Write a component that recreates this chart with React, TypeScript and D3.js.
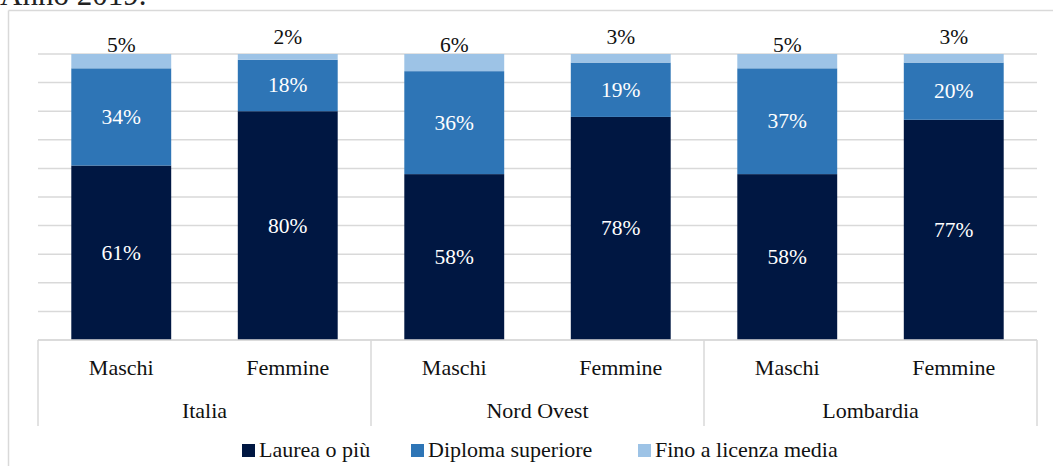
import React from "react";
import * as d3 from "d3";

const groups = ["Italia", "Nord Ovest", "Lombardia"];
const genders = ["Maschi", "Femmine"];
const seriesNames = ["Laurea o più", "Diploma superiore", "Fino a licenza media"];
const laurea = [61, 80, 58, 78, 58, 77];
const diploma = [34, 18, 36, 19, 37, 20];
const fino = [5, 2, 6, 3, 5, 3];
const gridTicks = [0, 10, 20, 30, 40, 50, 60, 70, 80, 90, 100];

const colors = ["#001742", "#2E75B6", "#9DC3E6"];
const FONT = "Liberation Serif, serif";
const ts = { fontFamily: FONT };

export default function App() {
  const W = 1053, H = 466;
  const left = 38, right = 1037, top = 54, bottom = 340;
  const bars = groups.flatMap((g, gi) => genders.map((s, si) => ({
    key: `${gi}-${si}`, group: g, gender: s, idx: gi * 2 + si,
    laurea: laurea[gi * 2 + si], diploma: diploma[gi * 2 + si], fino: fino[gi * 2 + si],
  })));
  const x = d3.scaleBand<string>().domain(bars.map(b => b.key)).range([left, right]).paddingInner(0.4).paddingOuter(0.2);
  const y = d3.scaleLinear().domain([0, 100]).range([bottom, top]);
  const stack = d3.stack<any>().keys(["laurea", "diploma", "fino"]);
  const stacked = stack(bars);
  const groupScale = d3.scaleBand<string>().domain(groups).range([left, right]);
  const gridColor = "#D9D9D9";

  return (
    <svg width={W} height={H} style={{ position: "absolute", left: 0, top: 0, background: "#fff", fontFamily: FONT }}>
      <text x={0} y={5} fontSize={31} fill="#222" style={ts}>Anno 2019.</text>
      <line x1={8.5} y1={10.5} x2={W} y2={10.5} stroke={gridColor} strokeWidth={1.5} />
      <line x1={8.5} y1={10.5} x2={8.5} y2={H} stroke={gridColor} strokeWidth={1.5} />
      {gridTicks.map(t => (
        <line key={t} x1={left} x2={right} y1={y(t)} y2={y(t)} stroke={gridColor} strokeWidth={1.5} />
      ))}
      {stacked.map((layer, li) => layer.map((d, i) => (
        <rect key={`${li}-${i}`} x={x(bars[i].key)} width={x.bandwidth()} y={y(d[1])} height={y(d[0]) - y(d[1])} fill={colors[li]} />
      )))}
      {stacked.slice(0, 2).map((layer, li) => layer.map((d, i) => (
        <text key={`l${li}-${i}`} x={(x(bars[i].key) as number) + x.bandwidth() / 2} y={(y(d[0]) + y(d[1])) / 2 + 7}
          textAnchor="middle" fontSize={21.5} fill="#fff" style={ts}>{`${d[1] - d[0]}%`}</text>
      )))}
      {bars.map((b, i) => (
        <text key={`t${i}`} x={(x(b.key) as number) + x.bandwidth() / 2} y={y(100) - (b.idx % 2 === 0 ? 2 : 10)}
          textAnchor="middle" fontSize={21.5} fill="#111" style={ts}>{`${b.fino}%`}</text>
      ))}
      <line x1={left} x2={right} y1={bottom} y2={bottom} stroke={gridColor} strokeWidth={1.5} />
      {[...groups.map(g => groupScale(g) as number), right].map((sx, i) => (
        <line key={`s${i}`} x1={sx} x2={sx} y1={bottom} y2={426} stroke={gridColor} strokeWidth={1.5} />
      ))}
      {bars.map(b => (
        <text key={`c${b.key}`} x={(x(b.key) as number) + x.bandwidth() / 2} y={375} textAnchor="middle" fontSize={22} fill="#111" style={ts}>{b.gender}</text>
      ))}
      {groups.map(g => (
        <text key={`g${g}`} x={(groupScale(g) as number) + groupScale.bandwidth() / 2} y={418} textAnchor="middle" fontSize={22} fill="#111" style={ts}>{g}</text>
      ))}
      {seriesNames.map((n, i) => {
        const lx = [242, 411, 638][i];
        return (
          <g key={n}>
            <rect x={lx} y={444} width={13} height={13} fill={colors[i]} />
            <text x={lx + 17} y={457} fontSize={22} fill="#111" style={ts}>{n}</text>
          </g>
        );
      })}
    </svg>
  );
}
